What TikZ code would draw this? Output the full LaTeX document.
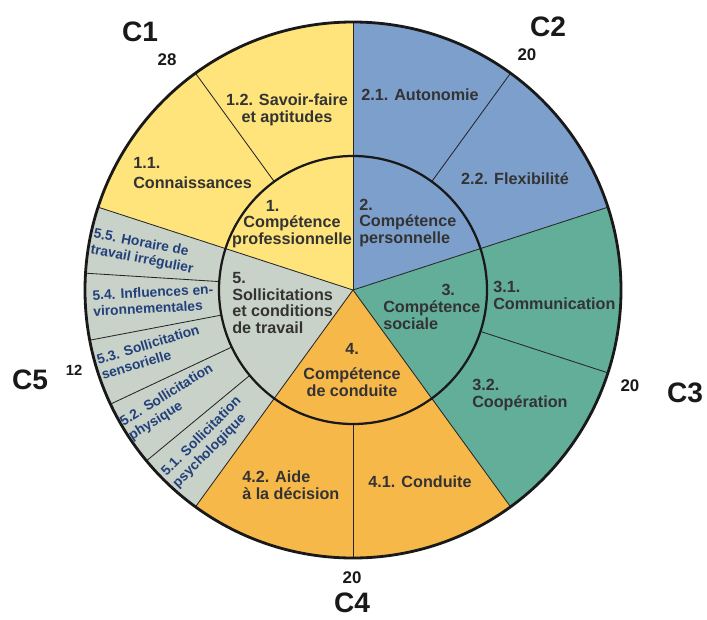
\documentclass[tikz,border=0pt]{standalone}
\usepackage{fontspec}
\setmainfont{Liberation Sans}
\usetikzlibrary{positioning}

\definecolor{cyellow}{HTML}{FEE47A}
\definecolor{cblue}{HTML}{7D9FCC}
\definecolor{cgreen}{HTML}{62AE98}
\definecolor{corange}{HTML}{F7B84A}
\definecolor{cgrey}{HTML}{C9D2C9}
\definecolor{ctext}{HTML}{333333}
\definecolor{cnavy}{HTML}{22407A}

\tikzstyle{lab}=[inner sep=0pt, text=ctext, font=\fontsize{11.5}{12}\selectfont\bfseries]
\tikzstyle{sublab}=[inner sep=0pt, text=cnavy, align=left, font=\fontsize{9.8}{11.3}\selectfont\bfseries]
\tikzstyle{bigc}=[inner sep=0pt, text=black!90, font=\fontsize{20}{20}\selectfont\bfseries]
\tikzstyle{score}=[inner sep=0pt, text=black!90, font=\fontsize{12}{12}\selectfont\bfseries]

\begin{document}
\begin{tikzpicture}[x=0.025cm, y=0.025cm, node distance=1cm, on grid]
	\useasboundingbox (-353,-329) rectangle (354,290);
	% the five sectors
	\foreach \a/\col in {18/cblue, 90/cyellow, 162/cgrey, 234/corange, 306/cgreen}
	\fill[\col] (0,0) -- (\a:268) arc[start angle=\a, end angle=\a+72, radius=268] -- cycle;
	\foreach \a in {18,90,162,234,306}
	\draw[line width=0.6pt, black!85] (0,0) -- (\a:268);
	\foreach \a in {54,126,176.4,190.8,205.2,219.6,270,342}
	\draw[line width=0.6pt, black!85] (\a:134) -- (\a:268);
	\draw[line width=1.6pt, black!90] (0,0) circle[radius=134];
	\draw[line width=2pt, black!90] (0,0) circle[radius=268];

	% inner labels
	\node[lab, align=center] (in1) at (-61,66) {1.\hspace*{2.4em}\\Compétence\\professionnelle};
	\node[lab, align=left, anchor=west] (in2) at (6,67) {2.\\Compétence\\personnelle};
	\node[lab, align=left, anchor=west] (in3) at (30,-17) {\hspace*{3.6em}3.\\Compétence\\sociale};
	\node[lab, align=center] (in4) at (-1,-80) {4.\\[6pt]Compétence\\de conduite};
	\node[lab, align=left, anchor=west] (in5) at (-121,-13) {5.\\Sollicitations\\et conditions\\de travail};

	% outer labels
	\node[lab, align=center] (lab12) at (-66,180) {1.2. Savoir-faire\\et aptitudes};
	\node[lab, align=left, anchor=west, font=\fontsize{11.5}{14}\selectfont\bfseries] (lab11) at (-220,117) {1.1.\\Connaissances};
	\node[lab] (lab21) at (67,195) {2.1. Autonomie};
	\node[lab] (lab22) at (162,111) {2.2. Flexibilité};
	\node[lab, align=left, anchor=west] (lab31) at (140,-5) {3.1.\\Communication};
	\node[lab, align=left, anchor=west] (lab32) at (119,-105) {3.2.\\Coopération};
	\node[lab] (lab41) at (67,-192) {4.1. Conduite};
	\node[lab, align=left, anchor=west] (lab42) at (-111,-195) {4.2. Aide\\à la décision};

	\node[sublab, rotate=-11] (lab55) at (169.7:213) {5.5. Horaire de\\travail irrégulier};
	\node[sublab, rotate=3] (lab54) at (182.9:200) {5.4. Influences en-\\vironnementales};
	\node[sublab, rotate=17] (lab53) at (197:212) {5.3. Sollicitation\\sensorielle};
	\node[sublab, rotate=32] (lab52) at (211.7:214) {5.2. Sollicitation\\physique};
	\node[sublab, rotate=45] (lab51) at (226.3:211) {5.1. Sollicitation\\psychologique};

	% groups and scores
	\node[bigc] (c1) at (-213,258) {C1};
	\node[bigc] (c2) at (195,263) {C2};
	\node[bigc] (c3) at (332,-103) {C3};
	\node[bigc] (c4) at (-1,-313) {C4};
	\node[bigc] (c5) at (-323,-90) {C5};
	\node[score, below right=0.7cm and 0.675cm of c1] (s1) {28};
	\node[score, below left=0.7cm and 0.525cm of c2] (s2) {20};
	\node[score, above left=0.175cm and 1.375cm of c3] (s3) {20};
	\node[score, above=0.625cm of c4] (s4) {20};
	\node[score, above right=0.25cm and 1.1cm of c5, font=\fontsize{10.5}{10.5}\selectfont\bfseries] (s5) {12};
\end{tikzpicture}
\end{document}
